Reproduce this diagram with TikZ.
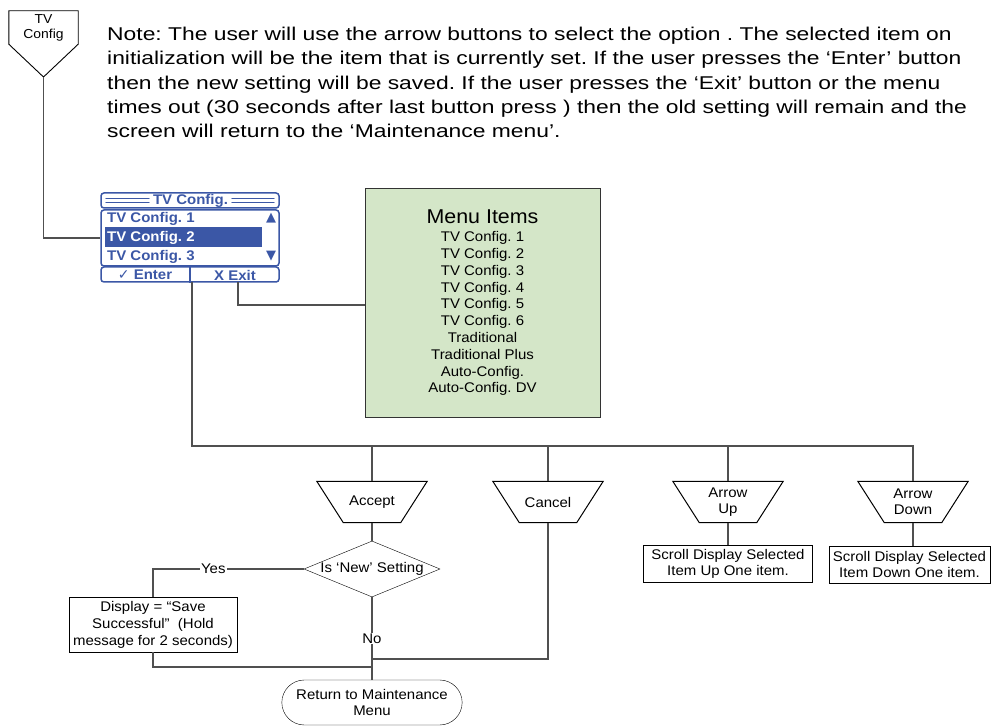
\documentclass[tikz,border=0pt]{standalone}
\usepackage{fontspec}
\setmainfont{Liberation Sans}[FakeStretch=1.07]
\newfontfamily\notefont{Liberation Sans}[FakeStretch=1.235]
\newfontfamily\symfont{DejaVu Sans}
\usetikzlibrary{shapes, arrows, calc, fit, positioning}

\definecolor{lcdblue}{HTML}{3B57A6}
\definecolor{menugreen}{HTML}{D4E6C8}
\definecolor{flowgray}{HTML}{505050}

\tikzstyle{keypress} = [rectangle, minimum width=110pt, minimum height=41pt,
    inner sep=0pt, align=center]
\tikzstyle{action} = [rectangle, draw, align=center, inner sep=0pt]
\tikzstyle{decision} = [diamond, draw, minimum width=136pt, minimum height=56pt, inner sep=0pt]
\tikzstyle{terminal} = [rounded rectangle, draw, minimum width=187pt,
    minimum height=45pt, align=center]
\tikzstyle{lcdbar} = [rectangle, draw=lcdblue, line width=1.5pt, rounded corners=3pt,
    minimum width=178pt, inner sep=0pt]
\tikzstyle{lcdtext} = [text=lcdblue, font=\bfseries\fontsize{14}{14}\selectfont, inner sep=0pt]
\tikzstyle{wire} = [draw=flowgray, line width=1.1pt]

\frenchspacing
\begin{document}
\begin{tikzpicture}[x=1pt, y=-1pt, node distance=62pt, font=\fontsize{14}{16.5}\selectfont]
    \useasboundingbox (0,0) rectangle (991,727);
    % Off-page connector and note
    \node [minimum width=69pt, minimum height=33pt, inner sep=0pt, align=center,
        font=\fontsize{13}{15}\selectfont] (offpage) at (43.5,27.5) {TV\\Config};
    \coordinate (offtip) at (43.5,77);
    \draw [line width=0.9pt] (offpage.north west) -- (offpage.north east)
        -- (offpage.south east) -- (offtip) -- (offpage.south west) -- cycle;
    \node [anchor=north west, align=left, inner sep=0pt,
        font=\notefont\fontsize{18.5}{24.2}\selectfont] (note) at (107,27)
        {Note: The user will use the arrow buttons to select the option . The selected item on\\
         initialization will be the item that is currently set. If the user presses the ‘Enter’ button\\
         then the new setting will be saved. If the user presses the ‘Exit’ button or the menu\\
         times out (30 seconds after last button press ) then the old setting will remain and the\\
         screen will return to the ‘Maintenance menu’.};
    % LCD screen
    \node [lcdbar, minimum height=15pt] (lcdtitle) at (190,200.5) {};
    \node [lcdbar, minimum height=56pt] (lcdlist) at (190,238) {};
    \node [lcdbar, minimum height=15pt] (lcdfoot) at (190,274.5) {};
    \draw [lcdblue, line width=1.3pt] (lcdfoot.north) -- (lcdfoot.south);
    \foreach \ly in {198.8,202.6} {
        \draw [lcdblue, line width=1.3pt, line cap=round] (106,\ly) -- (149,\ly);
        \draw [lcdblue, line width=1.3pt, line cap=round] (232,\ly) -- (274,\ly);
    }
    \node [lcdtext] (lcdhead) at (190.5,201) {TV Config.};
    \node [fill=lcdblue, minimum width=157pt, minimum height=20pt, inner sep=0pt] (lcdsel) at (183.5,237) {};
    \node [lcdtext, anchor=west] (item1) at (107,218.5) {TV Config. 1};
    \node [lcdtext, anchor=west, text=white] (item2) at (107,237.5) {TV Config. 2};
    \node [lcdtext, anchor=west] (item3) at (107,256.5) {TV Config. 3};
    \node [text=lcdblue, font=\symfont\fontsize{13}{13}\selectfont, inner sep=0pt] (scrollup) at (271,218) {▲};
    \node [text=lcdblue, font=\symfont\fontsize{13}{13}\selectfont, inner sep=0pt] (scrolldn) at (271,256) {▼};
    \node [lcdtext] (enterkey) at (145,275) {{\symfont\bfseries ✓} Enter};
    \node [lcdtext] (exitkey) at (235,275) {X Exit};
    \coordinate (enterpin) at (192,282);
    \coordinate (exitpin) at (238,282);
    % Menu items
    \node [rectangle, draw=black!80, fill=menugreen, line width=1pt, minimum width=235pt,
        minimum height=228pt, align=center, font=\fontsize{14}{16.8}\selectfont] (menu) at (482.5,303)
        {{\fontsize{20}{22}\selectfont Menu Items}\\[1pt]
         TV Config. 1\\ TV Config. 2\\ TV Config. 3\\ TV Config. 4\\ TV Config. 5\\
         TV Config. 6\\ Traditional\\ Traditional Plus\\ Auto-Config.\\ Auto-Config. DV};
    % Key presses
    \node [keypress] (accept) at (372,502) {Accept};
    \node [keypress] (cancel) at (548,502) {Cancel};
    \node [keypress] (arup) at (728,502) {Arrow\\Up};
    \node [keypress] (ardown) at (913,502) {Arrow\\Down};
    \foreach \k in {accept, cancel, arup, ardown}
        \draw [line width=1pt] (\k.north west) -- (\k.north east)
            -- ([xshift=-26.5pt]\k.south east) -- ([xshift=26.5pt]\k.south west) -- cycle;
    \node [action, minimum width=169pt, minimum height=37pt, below of=arup] (moveup)
        {Scroll Display Selected\\Item Up One item.};
    \node [action, minimum width=161pt, minimum height=37pt] (movedown) at (909.5,564.5)
        {Scroll Display Selected\\Item Down One item.};
    \node [decision, below of=accept, node distance=67pt] (isnew) {};
    \node [inner sep=0pt] at (isnew.center) {Is ‘New’ Setting};
    \node [action, minimum width=168pt, minimum height=55pt, font=\fontsize{14}{17}\selectfont] (save) at (153,624.5)
        {Display = “Save\\Successful”\ \ (Hold\\message for 2 seconds)};
    \node [terminal] (return) at (372,702.5) {Return to Maintenance\\Menu};
    \coordinate (busend) at (913,446);
    \coordinate (savejoin) at (372,667);
    \coordinate (canceljoin) at (372,659);
    % Edges
    \path [wire] (offtip) |- (lcdlist.west);
    \path [wire] (exitpin) |- (menu.west |- 0,305);
    \path [wire] (enterpin) |- (busend) -- (ardown.north);
    \path [wire] (accept.north) -- (accept.north |- busend);
    \path [wire] (cancel.north) -- (cancel.north |- busend);
    \path [wire] (arup.north) -- (arup.north |- busend);
    \path [wire] (arup.south) -- (moveup.north);
    \path [wire] (ardown.south) -- (ardown.south |- movedown.north);
    \path [wire] (accept.south) -- (isnew.north);
    \path [wire] (isnew.west) -| (save.north) node [pos=0.3, fill=white, inner sep=1pt] {Yes};
    \path [wire] (isnew.south) -- (return.north) node [pos=0.5, fill=white, inner sep=1pt] {No};
    \path [wire] (save.south) |- (savejoin);
    \path [wire] (cancel.south) |- (canceljoin);
\end{tikzpicture}
\end{document}
